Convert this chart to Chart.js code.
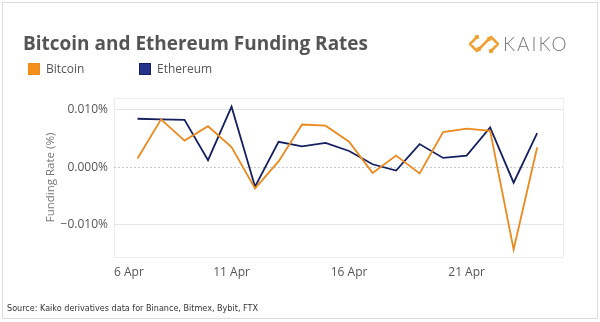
<!DOCTYPE html>
<html>
<head>
<meta charset="utf-8">
<script src="https://cdn.jsdelivr.net/npm/chart.js@4/dist/chart.umd.min.js"></script>
<style>
  html, body { margin: 0; padding: 0; background: #fff; }
  #wrap { width: 600px; height: 322px; position: relative; }
</style>
</head>
<body>
<div id="wrap"><canvas id="fundingChart"></canvas></div>
<script>
// -- Data (day of April, funding rate in %) ------------------------------
const days = [7, 8, 9, 10, 11, 12, 13, 14, 15, 16, 17, 18, 19, 20, 21, 22, 23, 24];
const bitcoin = [0.0015, 0.0083, 0.0046, 0.0071, 0.0035, -0.0037, 0.0010, 0.0074, 0.0072,
    0.0044, -0.0010, 0.0020, -0.0011, 0.0061, 0.0067, 0.0063, -0.0143, 0.0034];
const ethereum = [0.0084, 0.0083, 0.0082, 0.0012, 0.0105, -0.0034, 0.0044, 0.0036, 0.0042,
    0.0028, 0.0005, -0.0006, 0.0040, 0.0016, 0.0020, 0.0069, -0.0027, 0.0059];
const tickDays = [6, 11, 16, 21];
const tickLabels = ['6 Apr', '11 Apr', '16 Apr', '21 Apr'];
const yTicks = [-0.01, 0, 0.01];

const X_MAX = 25.1;
const FONT = '"Open Sans", sans-serif';
const GRID = '#e6e6e6';

function series(values) {
    return values.map((v, i) => ({ x: days[i], y: v }));
}

function fmtPct(v) {
    const s = Math.abs(v).toFixed(3) + '%';
    return v < 0 ? '\u2212' + s : s;
}

// draw text squeezed/stretched to a given width
function fitText(ctx, text, x, y, width) {
    const w = ctx.measureText(text).width;
    ctx.save();
    ctx.translate(x, y);
    ctx.scale(width / w, 1);
    ctx.fillText(text, 0, 0);
    ctx.restore();
}

// -- Frame, title, legend, logo and source drawn around the chart -------
const decor = {
    id: 'decor',
    beforeDraw(chart) {
        const { ctx, chartArea: a } = chart;
        ctx.save();
        ctx.fillStyle = '#fff';
        ctx.fillRect(0, 0, chart.width, chart.height);
        ctx.strokeStyle = '#dcdcdc';
        ctx.lineWidth = 1;
        ctx.strokeRect(2.5, 2.5, 595, 316);
        ctx.strokeStyle = '#ececec';
        ctx.strokeRect(Math.round(a.left) + 0.5, Math.round(a.top) + 0.5,
            Math.round(a.right - a.left), Math.round(a.bottom - a.top));
        ctx.restore();
    },
    beforeDatasetsDraw(chart) {
        const { ctx, chartArea: a, scales } = chart;
        const y0 = Math.round(scales.y.getPixelForValue(0)) + 0.5;
        ctx.save();
        ctx.strokeStyle = '#c8c8c8';
        ctx.setLineDash([2, 2]);
        ctx.beginPath();
        ctx.moveTo(a.left, y0);
        ctx.lineTo(a.right, y0);
        ctx.stroke();
        ctx.restore();
    },
    afterDraw(chart) {
        const { ctx } = chart;
        ctx.save();

        // title
        ctx.fillStyle = '#555';
        ctx.font = 'bold 20px ' + FONT;
        ctx.textBaseline = 'alphabetic';
        fitText(ctx, 'Bitcoin and Ethereum Funding Rates', 23, 50, 345);

        // legend
        const legendX = [28, 139];
        ctx.font = '12px ' + FONT;
        ctx.textBaseline = 'middle';
        chart.data.datasets.forEach((ds, i) => {
            const x = legendX[i];
            ctx.fillStyle = ds.legendColor;
            ctx.fillRect(x, 63, 12, 12);
            ctx.strokeStyle = ds.borderColor;
            ctx.strokeRect(x + 0.5, 63.5, 11, 11);
            ctx.fillStyle = '#555';
            ctx.fillText(ds.label, x + 18, 70);
        });

        // source note
        ctx.font = '9.5px "DejaVu Sans", ' + FONT;
        ctx.fillStyle = '#333';
        fitText(ctx, 'Source: Kaiko derivatives data for Binance, Bitmex, Bybit, FTX', 7, 309, 251);

        drawLogo(ctx, 468, 44);
        ctx.restore();
    },
};

function drawLogo(ctx, x, y) {
    ctx.save();
    ctx.strokeStyle = '#f0a030';
    ctx.fillStyle = '#f0a030';
    ctx.lineWidth = 2.6;
    ctx.lineCap = 'round';
    ctx.lineJoin = 'round';
    ctx.beginPath();
    ctx.moveTo(x + 9, y - 7);
    ctx.lineTo(x + 2, y);
    ctx.lineTo(x + 9, y + 7);
    ctx.moveTo(x + 23, y - 7);
    ctx.lineTo(x + 30, y);
    ctx.lineTo(x + 23, y + 7);
    ctx.moveTo(x + 11, y + 5);
    ctx.lineTo(x + 21, y - 5);
    ctx.stroke();
    [[x + 9, y - 7], [x + 23, y + 7], [x + 11, y + 5], [x + 21, y - 5]].forEach(([px, py]) => {
        ctx.beginPath();
        ctx.arc(px, py, 2.2, 0, Math.PI * 2);
        ctx.fill();
    });
    ctx.fillStyle = '#7a7a7a';
    ctx.font = '300 19px Lato, ' + FONT;
    ctx.textBaseline = 'middle';
    ctx.letterSpacing = '2px';
    ctx.fillText('KAIKO', x + 35, y + 1);
    ctx.restore();
}

new Chart(document.getElementById('fundingChart'), {
    type: 'line',
    data: {
        datasets: [
            { label: 'Bitcoin', data: series(bitcoin), borderColor: '#ea8a1f', legendColor: '#f39019' },
            { label: 'Ethereum', data: series(ethereum), borderColor: '#14205f', legendColor: '#25338a' },
        ],
    },
    options: {
        responsive: true, maintainAspectRatio: false, animation: false,
        devicePixelRatio: 1,
        layout: { padding: { top: 98, right: 37, left: 44, bottom: 0 } },
        elements: {
            line: { borderWidth: 1.8, tension: 0, fill: false },
            point: { radius: 0, hoverRadius: 0 },
        },
        plugins: { legend: { display: false }, tooltip: { enabled: false }, title: { display: false } },
        scales: {
            x: {
                type: 'linear', min: 6, max: X_MAX,
                grid: { display: false, drawTicks: false },
                border: { display: false },
                // trailing blank tick so 'inner' only pushes the first label inward
                afterBuildTicks(s) { s.ticks = [...tickDays, X_MAX].map((v) => ({ value: v })); },
                afterFit(s) { s.height = 65; },
                ticks: {
                    autoSkip: false, maxRotation: 0, padding: 8, color: '#555', align: 'inner',
                    font: { family: FONT, size: 12 },
                    callback: (v) => tickLabels[tickDays.indexOf(v)] ?? '',
                },
            },
            y: {
                min: -0.0156, max: 0.012,
                grid: { color: (c) => (c.tick && c.tick.value === 0 ? 'transparent' : GRID), drawTicks: false },
                border: { display: false },
                afterBuildTicks(s) { s.ticks = yTicks.map((v) => ({ value: v })); },
                afterFit(s) { s.width = 70; },
                ticks: {
                    padding: 6, color: '#555',
                    font: { family: FONT, size: 12 },
                    callback: (v) => fmtPct(v),
                },
                title: {
                    display: true, text: 'Funding Rate (%)', color: '#777',
                    font: { family: FONT, size: 11.5 }, padding: { top: 0, bottom: 0 },
                },
            },
        },
    },
    plugins: [decor],
});
</script>
</body>
</html>
